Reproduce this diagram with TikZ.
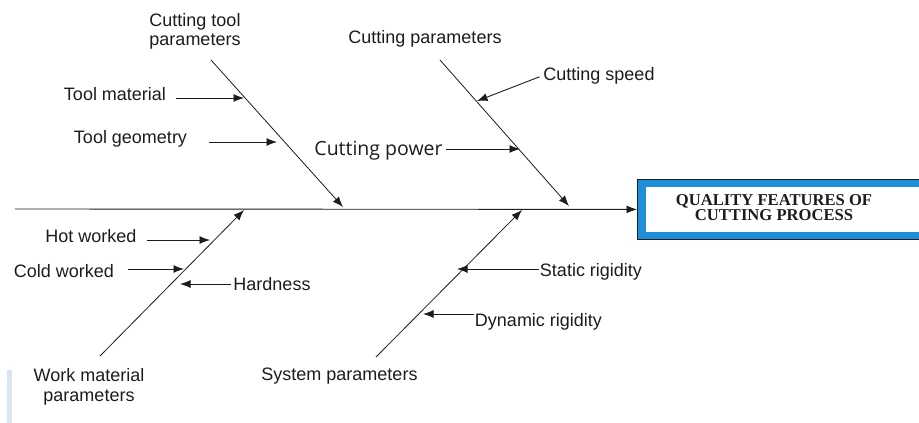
\documentclass[tikz,border=0pt]{standalone}
\usepackage{fontspec}
\setmainfont{Liberation Sans}
\newfontfamily\powerfont{Open Sans}
\newfontfamily\boxfont{Liberation Serif}
\usetikzlibrary{arrows.meta}
\definecolor{ink}{HTML}{1C1C1C}
\definecolor{boxblue}{HTML}{1E8FD8}
\definecolor{barblue}{HTML}{DCE6F1}
\begin{document}
\begin{tikzpicture}[x=1pt,y=-1pt,
  lab/.style={inner sep=0pt, text=ink, font=\fontsize{18}{19}\selectfont},
  arr/.style={draw=ink, line width=0.9pt, -{Latex[length=10.5pt,width=8pt]}},
  bonearr/.style={draw=ink, line width=0.8pt, -{Latex[length=10.5pt,width=8pt]}}]
\useasboundingbox (0,0) rectangle (919,423);
\fill[barblue] (7,370) rectangle (12,423);
% effect box
\node[draw=ink, line width=0.8pt, fill=boxblue, minimum width=300pt, minimum height=60pt, inner sep=0pt, anchor=north west] (q) at (637,179) {};
\node[fill=white, minimum width=290pt, minimum height=45pt, inner sep=0pt, anchor=north west] (qi) at (646,187) {};
\node[anchor=north, inner sep=0pt, align=center, text=ink, font=\boxfont\bfseries\fontsize{16.6}{15.5}\selectfont] (qt) at (774,194) {QUALITY FEATURES OF\\CUTTING PROCESS};
% spine
\coordinate (sp0) at (15,209);
\draw[arr] (sp0) -- (q.west);
% bones
\coordinate (b1s) at (211,60);  \coordinate (b1e) at (343,207);
\coordinate (b2s) at (440,60);  \coordinate (b2e) at (569,206);
\coordinate (b3s) at (100,356); \coordinate (b3e) at (244,210);
\coordinate (b4s) at (376,357); \coordinate (b4e) at (522,210);
\draw[bonearr] (b1s) -- (b1e);
\draw[bonearr] (b2s) -- (b2e);
\draw[bonearr] (b3s) -- (b3e);
\draw[bonearr] (b4s) -- (b4e);
% labels
\node[lab, anchor=north, align=center] (ctp) at (195,13) {Cutting tool\\parameters};
\node[lab, anchor=base] (tm) at (115,100) {Tool material};
\node[lab, anchor=base] (tg) at (130.5,143) {Tool geometry};
\node[lab, anchor=base] (cp) at (425,43) {Cutting parameters};
\node[lab, anchor=base] (cs) at (599,80) {Cutting speed};
\node[lab, anchor=base, font=\powerfont\fontsize{19.5}{20}\selectfont] (pw) at (378.5,155) {Cutting power};
\node[lab, anchor=base] (hw) at (91,242) {Hot worked};
\node[lab, anchor=base] (cw) at (64,277) {Cold worked};
\node[lab, anchor=base] (hd) at (272,290) {Hardness};
\node[lab, anchor=north, align=center, font=\fontsize{18}{20}\selectfont] (wm) at (89,368) {Work material\\parameters};
\node[lab, anchor=base] (sy) at (339.5,380) {System parameters};
\node[lab, anchor=base] (sr) at (591,276) {Static rigidity};
\node[lab, anchor=base] (dr) at (538.5,326) {Dynamic rigidity};
% cause arrow targets on the bones
\coordinate (tmE) at (244,98);
\coordinate (tgE) at (277,142);
\coordinate (csE) at (477,101);
\coordinate (pwE) at (520,149);
\coordinate (hwE) at (210,240);
\coordinate (cwE) at (184,269);
\coordinate (hdE) at (180,284);
\coordinate (srE) at (457,269);
\coordinate (drE) at (423,314);
% cause arrows
\draw[arr, shorten <=10pt] (tm.east |- tmE) -- (tmE);
\draw[arr, shorten <=22pt] (tg.east |- tgE) -- (tgE);
\draw[arr, shorten <=4pt] (cs.west) -- (csE);
\draw[arr, shorten <=3pt] (pw.east |- pwE) -- (pwE);
\draw[arr, shorten <=10pt] (hw.east |- hwE) -- (hwE);
\draw[arr, shorten <=14pt] (cw.east |- cwE) -- (cwE);
\draw[arr, shorten <=2pt] (hd.west |- hdE) -- (hdE);
\draw[arr, shorten <=1pt] (sr.west |- srE) -- (srE);
\draw[arr, shorten <=1pt] (dr.west |- drE) -- (drE);
\end{tikzpicture}
\end{document}
